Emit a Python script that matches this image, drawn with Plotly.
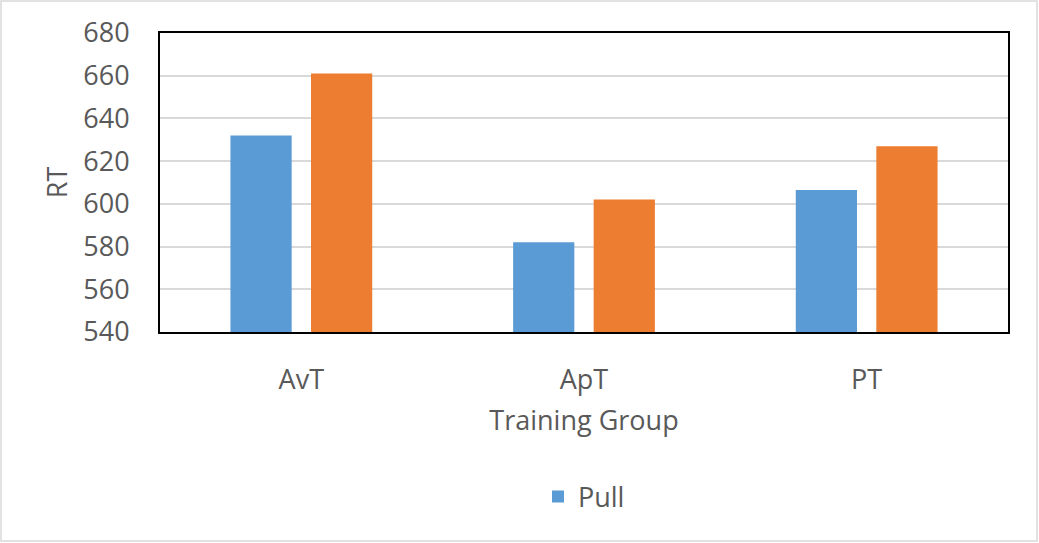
import plotly.graph_objects as go

categories = ["AvT", "ApT", "PT"]
pull_values = [632, 582, 606.5]
push_values = [661, 602, 627]
y_ticks = [540, 560, 580, 600, 620, 640, 660, 680]

W, H = 1039, 543
L, R, T, B = 160, 31, 33, 211
pw, ph = W - L - R, H - T - B

def px(x):
    return (x - L) / pw

def py(y):
    return (H - B - y) / ph

FONT = "Open Sans"
TXT = "#595959"
FS = 27

fig = go.Figure()
fig.add_trace(go.Bar(x=categories, y=pull_values, name="Pull",
                     marker=dict(color="#5B9BD5", line=dict(width=0))))
fig.add_trace(go.Bar(x=categories, y=push_values, name="Push", showlegend=False,
                     marker=dict(color="#ED7D31", line=dict(width=0))))

fig.update_layout(
    width=W, height=H,
    margin=dict(l=L, r=R, t=T, b=B),
    paper_bgcolor="white", plot_bgcolor="white",
    barmode="group", bargap=0.43, bargroupgap=0.24,
    font=dict(family=FONT, size=FS, color=TXT),
    showlegend=True,
    legend=dict(orientation="h", x=0.5, xanchor="center", y=py(497), yanchor="middle",
                font=dict(family=FONT, size=FS, color=TXT), itemwidth=30),
    xaxis=dict(title=dict(text="Training Group", standoff=15,
                          font=dict(family=FONT, size=FS, color=TXT)),
               tickfont=dict(family=FONT, size=FS, color=TXT),
               showline=True, linecolor="black", linewidth=2, mirror=True,
               ticks="outside", ticklen=23, tickcolor="rgba(0,0,0,0)"),
    yaxis=dict(title=dict(text="RT", standoff=8,
                          font=dict(family=FONT, size=FS, color=TXT)),
               range=[540, 680], tickvals=y_ticks,
               tickfont=dict(family=FONT, size=FS, color=TXT),
               showgrid=True, gridcolor="#D9D9D9", gridwidth=1.5,
               showline=True, linecolor="black", linewidth=2, mirror=True,
               ticks="outside", ticklen=23, tickcolor="rgba(0,0,0,0)",
               zeroline=False),
    shapes=[dict(type="rect", xref="paper", yref="paper",
                 x0=px(1), x1=px(W - 2), y0=py(H - 2), y1=py(1),
                 line=dict(color="#D9D9D9", width=1.5), fillcolor="rgba(0,0,0,0)",
                 layer="below")],
)

fig.write_html("out.html", config={"displayModeBar": False},
               post_script="document.body.style.margin='0';")
